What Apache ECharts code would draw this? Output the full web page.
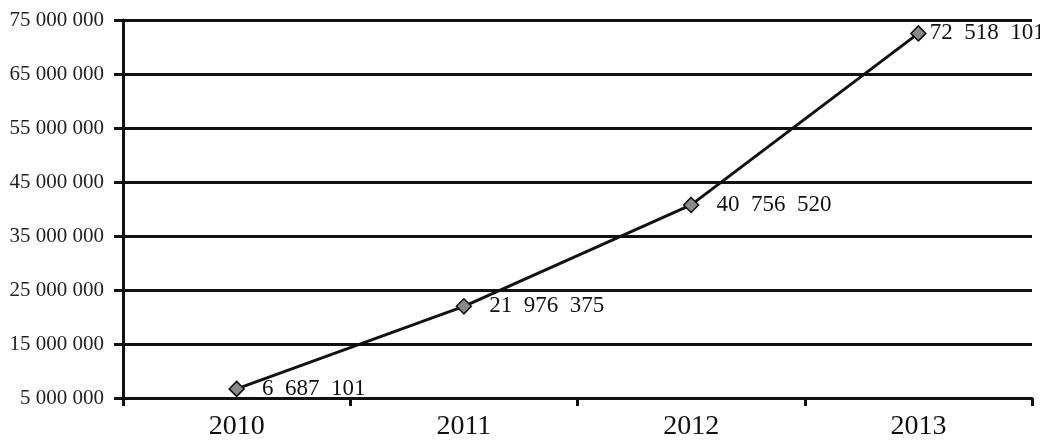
<!DOCTYPE html>
<html>
<head>
<meta charset="utf-8">
<script src="https://cdn.jsdelivr.net/npm/echarts@6/dist/echarts.min.js"></script>
<style>html,body{margin:0;padding:0;background:#fff;}#c{width:1040px;height:442px;}</style>
</head>
<body>
<div id="c"></div>
<script>
var categories = ['2010', '2011', '2012', '2013'];
var values = [6687101, 21976375, 40756520, 72518101];
var yMin = 5000000, yMax = 75000000, yStep = 10000000;

function spaced(n) {
  return String(n).replace(/\B(?=(\d{3})+(?!\d))/g, '  ');
}
function plain(n) {
  return String(n).replace(/\B(?=(\d{3})+(?!\d))/g, ' ');
}

var seriesData = values.map(function (v, i) {
  var item = { value: v };
  if (i === values.length - 1) item.label = { distance: 3 };
  return item;
});

var chart = echarts.init(document.getElementById('c'));
chart.setOption({
  animation: false,
  backgroundColor: '#ffffff',
  grid: { left: 123, right: 8, top: 20, bottom: 44, containLabel: false },
  xAxis: {
    type: 'category',
    data: categories,
    boundaryGap: true,
    axisLine: { show: true, lineStyle: { color: '#111', width: 3 } },
    axisTick: { show: true, alignWithLabel: false, length: 8, lineStyle: { color: '#111', width: 3 } },
    axisLabel: { color: '#111', fontFamily: 'Liberation Serif', fontSize: 28, margin: 15 },
    splitLine: { show: false }
  },
  yAxis: {
    type: 'value',
    min: yMin,
    max: yMax,
    interval: yStep,
    axisLine: { show: true, lineStyle: { color: '#111', width: 3 } },
    axisTick: { show: true, length: 9, lineStyle: { color: '#111', width: 3 } },
    axisLabel: { color: '#222', fontFamily: 'Liberation Serif', fontSize: 21, margin: 19,
      formatter: function (v) { return plain(v); } },
    splitLine: { show: true, lineStyle: { color: '#111', width: 3 } }
  },
  series: [{
    type: 'line',
    data: seriesData,
    symbol: 'diamond',
    symbolSize: 15,
    lineStyle: { color: '#111', width: 3 },
    itemStyle: { color: '#8a8a8a', borderColor: '#111', borderWidth: 1.5 },
    label: {
      show: true,
      position: 'right',
      distance: 17,
      color: '#111',
      fontFamily: 'Liberation Serif',
      fontSize: 23,
      formatter: function (p) { return spaced(p.value); }
    },
    z: 5
  }]
});
</script>
</body>
</html>
